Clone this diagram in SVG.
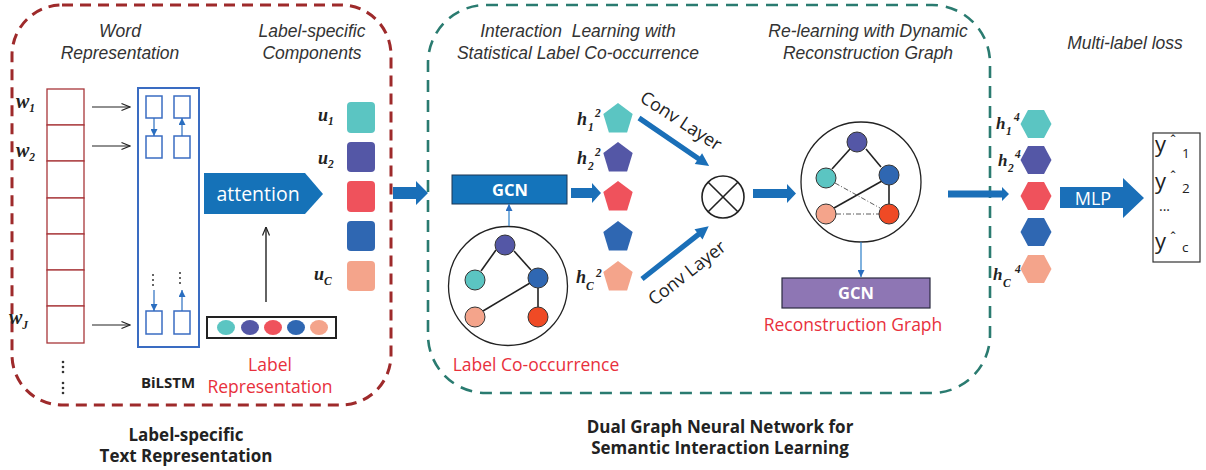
<svg xmlns="http://www.w3.org/2000/svg" width="1206" height="470" viewBox="0 0 1206 470">
<defs>
<style>
.ttl{font-family:"Liberation Sans",Arial,sans-serif;font-style:italic;font-size:17.5px;fill:#333;text-anchor:middle}
.bold{font-family:"Open Sans","Noto Sans",sans-serif;font-weight:bold;fill:#222;text-anchor:middle}
.red{font-family:"Open Sans","Noto Sans",sans-serif;font-size:17.5px;fill:#E8303C;text-anchor:middle}
.wht{font-family:"Open Sans","Noto Sans",sans-serif;fill:#fff;text-anchor:middle}
.var{font-family:"Liberation Serif","Times New Roman",serif;font-style:italic;font-weight:bold;fill:#222}
.sub{font-size:11.5px}
.reg{font-family:"Open Sans","Noto Sans",sans-serif;fill:#222}
.cell{fill:#fff;stroke:#A8363A;stroke-width:1.3}
.lstm{fill:#fff;stroke:#3A6CC2;stroke-width:1.5}
.edge{stroke:#222;stroke-width:1.6}
.thin{stroke:#333;stroke-width:0.8;stroke-dasharray:5 2 1 2}
.node{stroke:#333;stroke-width:1}
.blk{fill:#1A6FB8}
.teal{fill:#5BC5C2}.purp{fill:#5457A6}.redf{fill:#EF525C}.blue{fill:#2F67B2}.salm{fill:#F4A48B}.oran{fill:#EF4A25}
</style>
<marker id="openB" viewBox="0 0 10 10" refX="9.5" refY="5" markerWidth="10" markerHeight="10" markerUnits="userSpaceOnUse" orient="auto"><path d="M1,1.5 L9.5,5 L1,8.5" fill="none" stroke="#222" stroke-width="1.2"/></marker>
<marker id="blueT" viewBox="0 0 10 10" refX="10" refY="5" markerWidth="7" markerHeight="7" markerUnits="userSpaceOnUse" orient="auto"><path d="M0,0 L10,5 L0,10 z" fill="#2A6EC0"/></marker>
</defs>
<rect width="1206" height="470" fill="#fff"/>

<!-- containers -->
<g id="left-container">
<rect x="12" y="5" width="379" height="400" rx="50" fill="none" stroke="#9E2A2B" stroke-width="3" stroke-dasharray="11 7"/>
<text class="ttl" x="120" y="37">Word</text>
<text class="ttl" x="120" y="59">Representation</text>
<text class="ttl" x="312" y="37">Label-specific</text>
<text class="ttl" x="312" y="59">Components</text>
<text class="bold" x="186" y="441" font-size="17">Label-specific</text>
<text class="bold" x="186" y="462" font-size="17">Text Representation</text>
</g>
<g id="right-container">
<rect x="428" y="5" width="562" height="388" rx="58" fill="none" stroke="#2A7B70" stroke-width="2.6" stroke-dasharray="12 8"/>
<text class="ttl" x="578" y="37">Interaction&#160; Learning with</text>
<text class="ttl" x="578" y="59">Statistical Label Co-occurrence</text>
<text class="ttl" x="868" y="37">Re-learning with Dynamic</text>
<text class="ttl" x="868" y="59">Reconstruction Graph</text>
<text class="bold" x="720" y="433" font-size="17">Dual Graph Neural Network for</text>
<text class="bold" x="720" y="454" font-size="17">Semantic Interaction Learning</text>
</g>
<text class="ttl" x="1125" y="49">Multi-label loss</text>

<!-- word representation -->
<g id="word-column">
<rect class="cell" x="47" y="89" width="37" height="36"/>
<rect class="cell" x="47" y="125" width="37" height="36"/>
<rect class="cell" x="47" y="161" width="37" height="37"/>
<rect class="cell" x="47" y="198" width="37" height="36"/>
<rect class="cell" x="47" y="234" width="37" height="36"/>
<rect class="cell" x="47" y="270" width="37" height="36"/>
<rect class="cell" x="47" y="306" width="37" height="37"/>
<text class="var" x="16" y="108" font-size="20">w<tspan class="sub" dy="4">1</tspan></text>
<text class="var" x="16" y="157" font-size="20">w<tspan class="sub" dy="4">2</tspan></text>
<text class="var" x="9" y="324" font-size="20">w<tspan class="sub" dy="5">J</tspan></text>
<g fill="#333">
<circle cx="63" cy="362" r="1.3"/><circle cx="63" cy="367" r="1.3"/><circle cx="63" cy="372" r="1.3"/>
<circle cx="63" cy="383" r="1.3"/><circle cx="63" cy="388" r="1.3"/><circle cx="63" cy="393" r="1.3"/>
</g>
</g>

<g id="bilstm">
<rect x="138" y="88" width="61" height="259" fill="#fff" stroke="#3A6CC2" stroke-width="2"/>
<rect class="lstm" x="146" y="96" width="16" height="22"/>
<rect class="lstm" x="174" y="96" width="16" height="22"/>
<rect class="lstm" x="146" y="136" width="16" height="22"/>
<rect class="lstm" x="174" y="136" width="16" height="22"/>
<rect class="lstm" x="146" y="311" width="16" height="23"/>
<rect class="lstm" x="174" y="311" width="16" height="23"/>
<g fill="#333">
<circle cx="153" cy="275" r="1"/><circle cx="153" cy="280" r="1"/><circle cx="153" cy="285" r="1"/>
<circle cx="180" cy="273" r="1"/><circle cx="180" cy="278" r="1"/><circle cx="180" cy="283" r="1"/>
</g>
<text class="bold" x="168" y="388" font-size="15">BiLSTM</text>
</g>

<g id="attention">
<polygon points="204,173 305,173 323,194 305,214 204,214" fill="#1572B8"/>
<text class="wht" x="258" y="201" font-size="19.5">attention</text>
</g>

<g id="label-representation">
<rect x="207" y="317" width="129" height="21" fill="#fff" stroke="#222" stroke-width="2"/>
<ellipse class="teal" cx="226" cy="327.5" rx="9" ry="7.5"/>
<ellipse class="purp" cx="250" cy="327.5" rx="9" ry="7.5"/>
<ellipse class="redf" cx="273" cy="327.5" rx="9" ry="7.5"/>
<ellipse class="blue" cx="296" cy="327.5" rx="9" ry="7.5"/>
<ellipse class="salm" cx="319" cy="327.5" rx="9" ry="7.5"/>
<text class="red" x="270" y="371" font-size="17">Label</text>
<text class="red" x="270" y="393" font-size="17">Representation</text>
</g>

<g id="label-components">
<rect class="teal" x="347" y="102" width="28" height="31" rx="4"/>
<rect class="purp" x="347" y="142" width="28" height="30" rx="4"/>
<rect class="redf" x="347" y="181" width="28" height="31" rx="4"/>
<rect class="blue" x="347" y="221" width="28" height="30" rx="4"/>
<rect class="salm" x="347" y="261" width="28" height="30" rx="4"/>
<text class="var" x="318" y="121" font-size="18">u<tspan class="sub" dy="4">1</tspan></text>
<text class="var" x="318" y="164" font-size="18">u<tspan class="sub" dy="4">2</tspan></text>
<text class="var" x="314" y="280" font-size="18">u<tspan class="sub" dy="5">C</tspan></text>
</g>

<!-- dual graph -->
<g id="gcn-1">
<rect x="452" y="175" width="115" height="29" fill="#1474BB" stroke="#1B3552" stroke-width="1"/>
<text class="wht" x="510" y="196" font-size="16.5" font-weight="bold">GCN</text>
</g>

<g id="label-cooccurrence-graph">
<circle cx="508" cy="286" r="59.5" fill="#fff" stroke="#222" stroke-width="1.3"/>
<line class="edge" x1="496" y1="250" x2="481" y2="271"/>
<line class="edge" x1="514" y1="251" x2="531" y2="270"/>
<line class="edge" x1="530" y1="283" x2="483" y2="311"/>
<line class="edge" x1="538" y1="288" x2="538" y2="307"/>
<circle class="node purp" cx="505" cy="245" r="10"/>
<circle class="node teal" cx="475" cy="280" r="10"/>
<circle class="node blue" cx="538" cy="278" r="10"/>
<circle class="node salm" cx="475" cy="317" r="10"/>
<circle class="node oran" cx="538" cy="317" r="10"/>
<text class="red" x="536" y="371" font-size="18">Label Co-occurrence</text>
</g>

<g id="h2-features">
<g transform="translate(618,119)"><polygon class="teal" points="0,-16 14.7,-5 9.1,13.5 -9.1,13.5 -14.7,-5"/></g>
<g transform="translate(618,158)"><polygon class="purp" points="0,-16 14.7,-5 9.1,13.5 -9.1,13.5 -14.7,-5"/></g>
<g transform="translate(618,197)"><polygon class="redf" points="0,-16 14.7,-5 9.1,13.5 -9.1,13.5 -14.7,-5"/></g>
<g transform="translate(618,237)"><polygon class="blue" points="0,-16 14.7,-5 9.1,13.5 -9.1,13.5 -14.7,-5"/></g>
<g transform="translate(618,277)"><polygon class="salm" points="0,-16 14.7,-5 9.1,13.5 -9.1,13.5 -14.7,-5"/></g>
<text class="var" x="577" y="125" font-size="18">h</text><text class="var sub" x="588" y="131">1</text><text class="var sub" x="595" y="117">2</text>
<text class="var" x="577" y="164" font-size="18">h</text><text class="var sub" x="588" y="170">2</text><text class="var sub" x="595" y="156">2</text>
<text class="var" x="576" y="283" font-size="18">h</text><text class="var sub" x="586" y="290">C</text><text class="var sub" x="596" y="277">2</text>
</g>

<g id="otimes">
<circle cx="723" cy="197" r="21" fill="#fff" stroke="#222" stroke-width="1.6"/>
<line x1="708.2" y1="182.2" x2="737.8" y2="211.8" stroke="#222" stroke-width="1.6"/>
<line x1="737.8" y1="182.2" x2="708.2" y2="211.8" stroke="#222" stroke-width="1.6"/>
</g>

<g id="reconstruction-graph">
<circle cx="861" cy="182" r="60" fill="#fff" stroke="#222" stroke-width="1.3"/>
<line class="edge" x1="850" y1="149" x2="832" y2="169"/>
<line class="edge" x1="866" y1="149" x2="881" y2="167"/>
<line class="edge" x1="882" y1="181" x2="834" y2="208"/>
<line class="edge" x1="889" y1="185" x2="889" y2="204"/>
<line class="thin" x1="835" y1="183" x2="880" y2="208"/>
<line class="thin" x1="836" y1="214" x2="879" y2="214"/>
<circle class="node purp" cx="857" cy="142" r="10"/>
<circle class="node teal" cx="826" cy="178" r="10"/>
<circle class="node blue" cx="889" cy="175" r="10"/>
<circle class="node salm" cx="826" cy="214" r="10"/>
<circle class="node oran" cx="889" cy="214" r="10"/>
</g>

<g id="gcn-2">
<rect x="782" y="278" width="148" height="30" fill="#8E76B4" stroke="#2A2A40" stroke-width="1.2"/>
<text class="wht" x="856" y="299" font-size="16.5" font-weight="bold">GCN</text>
<text class="red" x="853" y="331" font-size="18">Reconstruction Graph</text>
</g>

<g id="h4-features">
<g transform="translate(1036,124)"><polygon class="teal" points="-15.5,0 -8,-14 8,-14 15.5,0 8,14 -8,14"/></g>
<g transform="translate(1036,160)"><polygon class="purp" points="-15.5,0 -8,-14 8,-14 15.5,0 8,14 -8,14"/></g>
<g transform="translate(1036,196)"><polygon class="redf" points="-15.5,0 -8,-14 8,-14 15.5,0 8,14 -8,14"/></g>
<g transform="translate(1036,232)"><polygon class="blue" points="-15.5,0 -8,-14 8,-14 15.5,0 8,14 -8,14"/></g>
<g transform="translate(1036,269)"><polygon class="salm" points="-15.5,0 -8,-14 8,-14 15.5,0 8,14 -8,14"/></g>
<text class="var" x="996" y="129" font-size="17">h</text><text class="var sub" x="1006" y="135">1</text><text class="var sub" x="1014" y="121">4</text>
<text class="var" x="998" y="166" font-size="17">h</text><text class="var sub" x="1008" y="172">2</text><text class="var sub" x="1015" y="158">4</text>
<text class="var" x="993" y="280" font-size="17">h</text><text class="var sub" x="1003" y="287">C</text><text class="var sub" x="1015" y="273">4</text>
</g>

<g id="mlp">
<polygon points="1060,187 1123,187 1123,178 1144,198 1123,218 1123,208 1060,208" fill="#1A6FB8"/>
<text class="wht" x="1093" y="205" font-size="18">MLP</text>
</g>

<g id="output">
<rect x="1153" y="133" width="47" height="129" fill="#fff" stroke="#333" stroke-width="1.2"/>
<text class="reg" x="1155" y="152" font-size="22">y</text><text class="reg" x="1170" y="146" font-size="15">ˆ</text><text class="reg" x="1182" y="158" font-size="13.5">1</text>
<text class="reg" x="1155" y="189" font-size="22">y</text><text class="reg" x="1170" y="182" font-size="15">ˆ</text><text class="reg" x="1182" y="193" font-size="13.5">2</text>
<text class="reg" x="1159" y="211" font-size="14">...</text>
<text class="reg" x="1155" y="249" font-size="22">y</text><text class="reg" x="1170" y="243" font-size="15">ˆ</text><text class="reg" x="1182" y="252" font-size="13.5">c</text>
</g>

<!-- connectors -->
<g id="connectors">
<line x1="92" y1="107" x2="130" y2="107" stroke="#222" stroke-width="1.1" marker-end="url(#openB)"/>
<line x1="92" y1="146" x2="130" y2="146" stroke="#222" stroke-width="1.1" marker-end="url(#openB)"/>
<line x1="92" y1="325" x2="130" y2="325" stroke="#222" stroke-width="1.1" marker-end="url(#openB)"/>
<line x1="154" y1="118" x2="154" y2="136" stroke="#2A6EC0" stroke-width="1.2" marker-end="url(#blueT)"/>
<line x1="182" y1="136" x2="182" y2="118" stroke="#2A6EC0" stroke-width="1.2" marker-end="url(#blueT)"/>
<line x1="154" y1="290" x2="154" y2="311" stroke="#2A6EC0" stroke-width="1.2" marker-end="url(#blueT)"/>
<line x1="182" y1="311" x2="182" y2="290" stroke="#2A6EC0" stroke-width="1.2" marker-end="url(#blueT)"/>
<line x1="266" y1="302" x2="266" y2="227" stroke="#222" stroke-width="1.4" marker-end="url(#openB)"/>
<polygon class="blk" points="393,187 416,187 416,181 428,193 416,205 416,199 393,199"/>
<line x1="509" y1="226" x2="509" y2="204" stroke="#2A7EC8" stroke-width="1.2" marker-end="url(#blueT)"/>
<polygon class="blk" points="571,188 592,188 592,183 601,193 592,203 592,198 571,198"/>
<g transform="translate(639,118) rotate(34.4)"><path class="blk" d="M0,-2.6 L72,-2.6 L72,-6.5 L85,0 L72,6.5 L72,2.6 L0,2.6 z"/></g>
<g transform="translate(642,279) rotate(-38.3)"><path class="blk" d="M0,-2.6 L72,-2.6 L72,-6.5 L85,0 L72,6.5 L72,2.6 L0,2.6 z"/></g>
<text class="reg" font-size="18" text-anchor="middle" transform="translate(681,121) rotate(33)" y="6">Conv Layer</text>
<text class="reg" font-size="18" text-anchor="middle" transform="translate(687,273) rotate(-38)" y="6">Conv Layer</text>
<polygon class="blk" points="753,189 787,189 787,184 796,193.5 787,203 787,198 753,198"/>
<line x1="861" y1="242" x2="861" y2="277" stroke="#2A7EC8" stroke-width="1.2" marker-end="url(#blueT)"/>
<polygon class="blk" points="948,190.5 1002,190.5 1002,187 1009,194 1002,201 1002,197.5 948,197.5"/>
</g>
</svg>
